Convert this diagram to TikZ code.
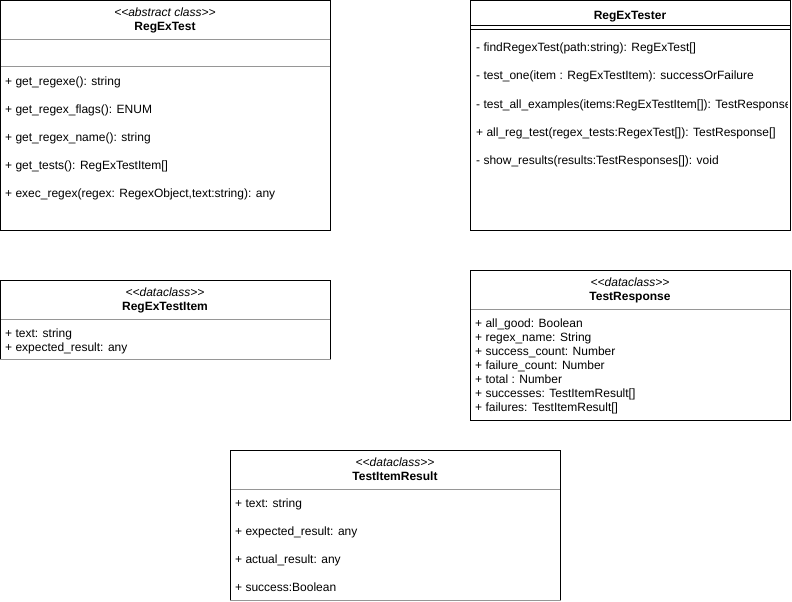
\documentclass[tikz,border=0pt]{standalone}
\usepackage{fontspec}
\setmainfont{Liberation Sans}
\definecolor{divgray}{RGB}{150,150,150}
\newcommand{\ltlt}{<\kern0pt<}
\newcommand{\gtgt}{>\kern0pt>}
\tikzset{
  edge/.style={draw=black, line width=1pt},
  divline/.style={draw=divgray, line width=1pt},
  txt/.style={font=\fontsize{12}{14}\selectfont, inner sep=0pt, anchor=base west},
  ttl/.style={font=\fontsize{12}{14}\selectfont\bfseries, inner sep=0pt, anchor=base},
  stereo/.style={font=\fontsize{12}{14}\selectfont\itshape, inner sep=0pt, anchor=base},
}
\begin{document}
\begin{tikzpicture}[x=1pt,y=-1pt]
\useasboundingbox (0,0) rectangle (792,602);

% ---------- RegExTest ----------
\draw[edge] (0.5,0.5) rectangle (330.5,230.5);
\draw[divline] (1,39.5) -- (330,39.5);
\draw[divline] (1,66.5) -- (330,66.5);
\node[stereo] (rt-s) at (165,16.5) {\ltlt abstract class\gtgt};
\node[ttl] (rt-t) at (165,30.5) {RegExTest};
\node[txt] (rt-m1) at (5,85) {+ get\_regexe(): string};
\node[txt] (rt-m2) at (5,113) {+ get\_regex\_flags(): ENUM};
\node[txt] (rt-m3) at (5,141) {+ get\_regex\_name(): string};
\node[txt] (rt-m4) at (5,169) {+ get\_tests(): RegExTestItem[]};
\node[txt] (rt-m5) at (5,197) {+ exec\_regex(regex: RegexObject,text:string): any};

% ---------- RegExTester ----------
\draw[edge] (470.5,0.5) rectangle (790.5,230.5);
\draw[edge] (471,25.5) -- (790,25.5);
\draw[edge] (471,30) -- (790,30);
\node[ttl] (rr-t) at (630,19.5) {RegExTester};
\node[txt] (rr-m1) at (476,52) {- findRegexTest(path:string): RegExTest[]};
\node[txt] (rr-m2) at (476,80) {- test\_one(item : RegExTestItem): successOrFailure};
\begin{scope}
\clip (471,90) rectangle (787.5,116);
\node[txt] (rr-m3) at (476,108) {- test\_all\_examples(items:RegExTestItem[]): TestResponse[]};
\end{scope}
\node[txt] (rr-m4) at (476,136) {+ all\_reg\_test(regex\_tests:RegexTest[]): TestResponse[]};
\node[txt] (rr-m5) at (476,164) {- show\_results(results:TestResponses[]): void};

% ---------- RegExTestItem ----------
\draw[edge] (0.5,359.5) -- (0.5,280.5) -- (330.5,280.5) -- (330.5,359.5);
\draw[divline] (1,319.5) -- (330,319.5);
\draw[divline] (0,359.5) -- (331,359.5);
\node[stereo] (ri-s) at (165,296.5) {\ltlt dataclass\gtgt};
\node[ttl] (ri-t) at (165,310.5) {RegExTestItem};
\node[txt] (ri-a1) at (5,337) {+ text: string};
\node[txt] (ri-a2) at (5,351) {+ expected\_result: any};

% ---------- TestResponse ----------
\draw[edge] (470.5,270.5) rectangle (790.5,420.5);
\draw[divline] (471,309.5) -- (790,309.5);
\node[stereo] (tr-s) at (630,286.5) {\ltlt dataclass\gtgt};
\node[ttl] (tr-t) at (630,300.5) {TestResponse};
\node[txt] (tr-a1) at (475,327) {+ all\_good: Boolean};
\node[txt] (tr-a2) at (475,341) {+ regex\_name: String};
\node[txt] (tr-a3) at (475,355) {+ success\_count: Number};
\node[txt] (tr-a4) at (475,369) {+ failure\_count: Number};
\node[txt] (tr-a5) at (475,383) {+ total : Number};
\node[txt] (tr-a6) at (475,397) {+ successes: TestItemResult[]};
\node[txt] (tr-a7) at (475,411) {+ failures: TestItemResult[]};

% ---------- TestItemResult ----------
\draw[edge] (230.5,600.5) -- (230.5,450.5) -- (560.5,450.5) -- (560.5,600.5);
\draw[divline] (231,489.5) -- (560,489.5);
\draw[divline] (230,600.5) -- (561,600.5);
\node[stereo] (ti-s) at (395,466.5) {\ltlt dataclass\gtgt};
\node[ttl] (ti-t) at (395,480.5) {TestItemResult};
\node[txt] (ti-a1) at (235,507) {+ text: string};
\node[txt] (ti-a2) at (235,535) {+ expected\_result: any};
\node[txt] (ti-a3) at (235,563) {+ actual\_result: any};
\node[txt] (ti-a4) at (235,591) {+ success:Boolean};
\end{tikzpicture}
\end{document}
